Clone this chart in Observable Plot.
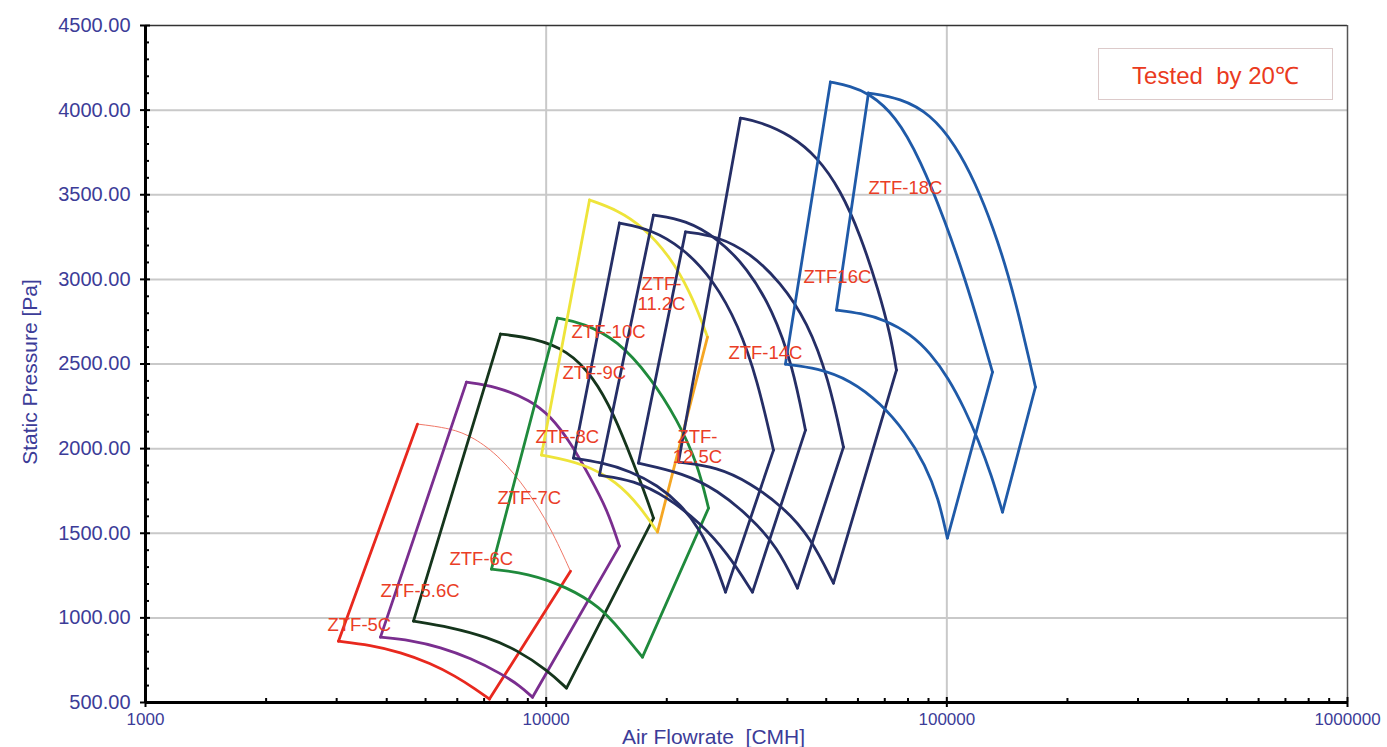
<!DOCTYPE html>
<html>
<head>
<meta charset="utf-8">
<script src="https://cdn.jsdelivr.net/npm/d3@7"></script>
<script src="https://cdn.jsdelivr.net/npm/@observablehq/plot@0.6"></script>
<style>
  html, body { margin: 0; padding: 0; background: #fff; }
  #chart { position: relative; width: 1387px; height: 747px; overflow: hidden; }
  #chart svg text { white-space: pre; }
  #legend {
    position: absolute; left: 1098px; top: 48px; width: 235px; height: 52px;
    border: 1px solid #dccaca; box-sizing: border-box; background: #fff;
    color: #ea3a20; font-family: "Liberation Sans", Arial, sans-serif; font-size: 24px;
    display: flex; align-items: center; justify-content: center; white-space: pre;
  }
</style>
</head>
<body>
<div id="chart"><div id="legend"></div></div>
<script>
// ---- data: [air flowrate CMH, static pressure Pa] ----
const ztf5cTop      = [[4774,2145],[5770,2121],[6586,2068],[7691,1950],[8982,1755],[10250,1536],[11500,1276]];
const ztf5cBottom   = [[3031,862],[3643,839],[4328,797],[5143,732],[5938,656],[6663,579],[7218,520]];
const ztf56cTop     = [[6325,2393],[7472,2369],[9138,2287],[10250,2192],[11500,2038],[12900,1826],[14220,1637],[15240,1424]];
const ztf56cBottom  = [[3859,886],[4585,868],[5447,827],[6474,762],[7691,673],[8627,597],[9244,531]];
const ztf6cTop      = [[7691,2677],[9297,2653],[11300,2582],[13120,2423],[14720,2210],[16520,1914],[17890,1696],[18530,1589]];
const ztf6cBottom   = [[4665,981],[5770,945],[7136,886],[8479,809],[10070,691],[11240,585]];
const ztf7cTop      = [[10670,2771],[12390,2742],[15070,2641],[18210,2423],[21270,2169],[23860,1914],[25420,1648]];
const ztf7cBottom   = [[7302,1288],[8982,1264],[11300,1182],[13660,1063],[15330,927],[17390,768]];
const ztf8cTop      = [[12830,3469],[15070,3410],[17490,3309],[20430,3132],[22920,2919],[24550,2742],[25270,2659]];
const ztf8cBottom   = [[9735,1962],[12390,1914],[15070,1802],[17190,1654],[18960,1507]];
const ztf9cTop      = [[15240,3333],[18210,3297],[22010,3185],[26160,2996],[30200,2730],[33680,2405],[36930,1991]];
const ztf9cBottom   = [[11700,1944],[13660,1920],[16230,1867],[18960,1784],[21630,1672],[24270,1519],[26160,1353],[28030,1152]];
const ztf10cTop     = [[18530,3380],[22270,3351],[26760,3244],[31790,3067],[36720,2819],[41180,2494],[44380,2109]];
const ztf10cBottom  = [[13580,1843],[16520,1814],[20080,1713],[24270,1560],[28350,1382],[32730,1152]];
const ztf112cTop    = [[22270,3280],[26760,3256],[32350,3155],[38430,2984],[44890,2748],[50640,2417],[55210,2009]];
const ztf112cBottom = [[16990,1914],[22010,1855],[26760,1755],[32350,1595],[37790,1418],[42380,1176]];
const ztf14cTop     = [[30550,3953],[34270,3930],[40710,3853],[47550,3723],[54270,3528],[60860,3262],[67500,2937],[72330,2671],[74860,2464]];
const ztf14cBottom  = [[21390,1920],[26760,1891],[32350,1796],[39100,1654],[45660,1477],[52120,1205]];
const ztf16cTop     = [[51230,4166],[57460,4142],[63740,4101],[74430,3971],[85960,3705],[99200,3339],[111300,2996],[121300,2700],[130000,2452]];
const ztf16cBottom  = [[39550,2499],[47550,2476],[57460,2405],[68290,2269],[78830,2098],[88440,1903],[95280,1708],[100300,1471]];
const ztf18cTop     = [[63740,4101],[76600,4071],[91010,3977],[105100,3794],[117900,3569],[130700,3303],[142500,3025],[152700,2748],[161700,2494],[166400,2364]];
const ztf18cBottom  = [[53030,2819],[60860,2801],[70280,2760],[81150,2677],[91010,2564],[100900,2417],[110600,2239],[119900,2050],[129200,1843],[137700,1625]];

const fanNames = ["ZTF-5C","ZTF-5.6C","ZTF-6C","ZTF-7C","ZTF-8C","ZTF-9C","ZTF-10C","ZTF-11.2C","ZTF-14C","ZTF-16C","ZTF-18C"];
const fanTops = [ztf5cTop, ztf56cTop, ztf6cTop, ztf7cTop, ztf8cTop, ztf9cTop, ztf10cTop, ztf112cTop, ztf14cTop, ztf16cTop, ztf18cTop];
const fanBottoms = [ztf5cBottom, ztf56cBottom, ztf6cBottom, ztf7cBottom, ztf8cBottom, ztf9cBottom, ztf10cBottom, ztf112cBottom, ztf14cBottom, ztf16cBottom, ztf18cBottom];

// curve labels
const labelTexts = ["ZTF-5C","ZTF-5.6C","ZTF-6C","ZTF-7C","ZTF-8C","ZTF-9C","ZTF-10C","ZTF-14C","ZTF16C","ZTF-18C"];
const labelFlow  = [2846, 3859, 5737, 7559, 9404, 10980, 11570, 28510, 43870, 63740];
const labelPress = [957, 1158, 1347, 1708, 2068, 2446, 2689, 2564, 3014, 3540];
const label2Texts = ["ZTF-\n11.2C", "ZTF-\n12.5C"];
const label2Flow  = [19400, 23860];
const label2Press = [2916, 2012];

// axes
const xTickValues = [1000, 10000, 100000, 1000000];
const xMinorValues = [2,3,4,5,6,7,8,9].flatMap(k => [1000, 10000, 100000].map(d => k * d));
const yTickValues = [500,1000,1500,2000,2500,3000,3500,4000,4500];
const yMinorValues = d3.range(600, 4500, 100).filter(v => v % 500 !== 0);
const gridY = [1000,1500,2000,2500,3000,3500,4000];
const gridX = [10000, 100000];
const legendText = "Tested  by 20℃";

// ---- styles (kept separate from data) ----
const fanStyles = [
  {stroke: "#e8281e", top: "#f07868", topWidth: 1},
  {stroke: "#7a2e8f"},
  {stroke: "#15351c"},
  {stroke: "#1f8a3c"},
  {stroke: "#eee43a", right: "#f5a623"},
  {stroke: "#252e66"},
  {stroke: "#252e66"},
  {stroke: "#252e66"},
  {stroke: "#252e66"},
  {stroke: "#1f5aa8"},
  {stroke: "#1f5aa8"}
];
const axisColor = "#3c3c98";
const labelColor = "#ea3d26";
const font = "'Liberation Sans', Arial, sans-serif";

const X = d => d[0], Y = d => d[1];
const fanMarks = [];
fanNames.forEach((name, i) => {
  const top = fanTops[i], bottom = fanBottoms[i], st = fanStyles[i];
  const w = 2.8;
  fanMarks.push(
    Plot.line(bottom, {x: X, y: Y, stroke: st.stroke, strokeWidth: w, curve: "basis"}),
    Plot.line(top, {x: X, y: Y, stroke: st.top ?? st.stroke, strokeWidth: st.topWidth ?? w, curve: "basis"}),
    Plot.link([{a: bottom[0], b: top[0]}], {x1: d => d.a[0], y1: d => d.a[1], x2: d => d.b[0], y2: d => d.b[1], stroke: st.stroke, strokeWidth: w, strokeLinecap: "round"}),
    Plot.link([{a: top[top.length - 1], b: bottom[bottom.length - 1]}], {x1: d => d.a[0], y1: d => d.a[1], x2: d => d.b[0], y2: d => d.b[1], stroke: st.right ?? st.stroke, strokeWidth: w, strokeLinecap: "round"})
  );
});

const labels = labelTexts.map((t, i) => ({t, x: labelFlow[i], y: labelPress[i]}));
const labels2 = label2Texts.map((t, i) => ({t, x: label2Flow[i], y: label2Press[i]}));

const frameH = 747 - 25 - 45, frameW = 1387 - 145 - 40;

const chart = Plot.plot({
  width: 1387,
  height: 747,
  marginLeft: 145,
  marginRight: 40,
  marginTop: 25,
  marginBottom: 45,
  style: {fontFamily: font, background: "#fff"},
  x: {type: "log", domain: [1000, 1000000]},
  y: {domain: [500, 4500]},
  marks: [
    Plot.ruleY(gridY, {stroke: "#c9c9c9", strokeWidth: 2}),
    Plot.ruleX(gridX, {stroke: "#c9c9c9", strokeWidth: 2}),
    Plot.ruleY([4500], {stroke: "#333", strokeWidth: 1.5}),
    Plot.ruleX([1000000], {stroke: "#555", strokeWidth: 1.5}),
    ...fanMarks,
    Plot.text(labels, {x: "x", y: "y", text: "t", fill: labelColor, fontSize: 18.5, textAnchor: "start"}),
    Plot.text(labels2, {x: "x", y: "y", text: "t", fill: labelColor, fontSize: 18.5, textAnchor: "middle", lineHeight: 1.05}),
    // axis lines and ticks
    Plot.ruleY([500], {stroke: "#000", strokeWidth: 3}),
    Plot.ruleX([1000], {stroke: "#000", strokeWidth: 3}),
    Plot.ruleX(xTickValues, {stroke: "#000", strokeWidth: 2, insetTop: frameH - 5, insetBottom: -5}),
    Plot.ruleX(xMinorValues, {stroke: "#000", strokeWidth: 2, insetTop: frameH - 4}),
    Plot.ruleY(yTickValues, {stroke: "#000", strokeWidth: 2, insetLeft: -5, insetRight: frameW - 5}),
    Plot.ruleY(yMinorValues, {stroke: "#000", strokeWidth: 2, insetRight: frameW - 4}),
    Plot.axisX(xTickValues, {tickSize: 0, tickPadding: 10, tickFormat: d => String(d), fontSize: 17, fill: axisColor, label: null}),
    Plot.axisY(yTickValues, {tickSize: 0, tickPadding: 15, tickFormat: d => d.toFixed(2), fontSize: 20, fill: axisColor, label: null}),
    Plot.text(["Air Flowrate  [CMH]"], {frameAnchor: "bottom", dy: 41, dx: -33, fontSize: 21, fill: axisColor, text: d => d}),
    Plot.text(["Static Pressure [Pa]"], {frameAnchor: "left", dx: -115, dy: 8, rotate: -90, textAnchor: "middle", fontSize: 21, fill: axisColor, text: d => d})
  ]
});

const holder = document.getElementById("chart");
holder.insertBefore(chart, holder.firstChild);
document.getElementById("legend").textContent = legendText;
</script>
</body>
</html>
